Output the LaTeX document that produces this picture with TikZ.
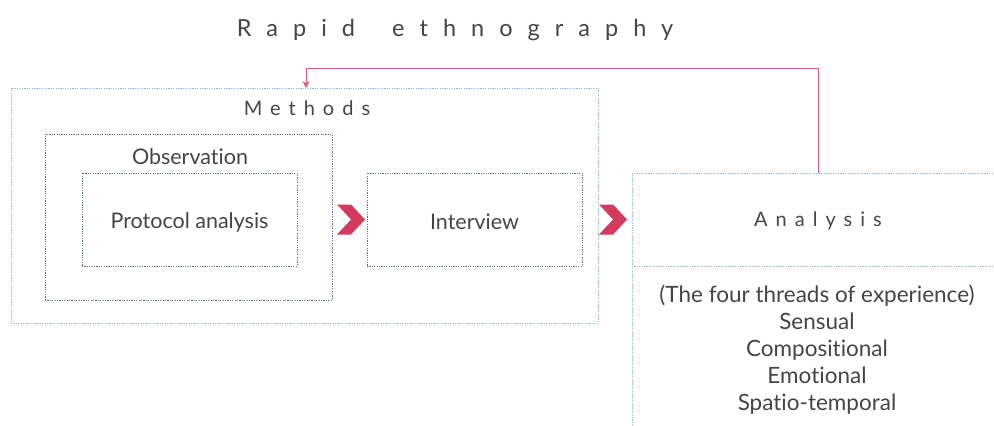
\documentclass[tikz,border=0pt]{standalone}
\usepackage{fontspec}
\setmainfont[Ligatures={NoCommon}]{Lato}
\newfontfamily\trackedwide[LetterSpace=64,Ligatures={NoCommon}]{Lato}
\newfontfamily\trackedmid[LetterSpace=40,Ligatures={NoCommon}]{Lato}
\usetikzlibrary{arrows.meta}

\definecolor{boxblue}{HTML}{8DB6E2}
\definecolor{boxslate}{HTML}{5C7089}
\definecolor{chevred}{HTML}{D23A5E}
\definecolor{linkpink}{HTML}{DC5A7A}
\definecolor{txtgrey}{HTML}{454545}

\tikzset{
  lightbox/.style={draw=boxblue, line width=0.9pt, dash pattern=on 1.2pt off 1.2pt},
  darkbox/.style={draw=boxslate, line width=0.9pt, dash pattern=on 1.2pt off 1.2pt},
  frame/.style={inner sep=0pt, outer sep=0pt, minimum width=#1},
  label/.style={text=txtgrey, font=\fontsize{21.5}{25}\selectfont, inner sep=0pt},
  spacedlabel/.style={text=txtgrey, font=\trackedmid\fontsize{20}{24}\selectfont, inner sep=0pt},
  chevron/.pic={\fill[chevred] (-28,-15) -- (-14,-15) -- (0,0) -- (-14,15) -- (-28,15) -- (-14,0) -- cycle;}
}

\begin{document}
\begin{tikzpicture}[x=1pt,y=-1pt]
\useasboundingbox (0,0) rectangle (994,426);

% title
\node[text=txtgrey, font=\trackedwide\fontsize{23.5}{28}\selectfont, inner sep=0pt] (title) at (455,30) {Rapid\hspace{16pt} ethnography};

% methods group
\node[lightbox, frame=587, minimum height=235] (methods) at (304.5,205.5) {};
\node[spacedlabel] (methodslabel) at (307,108) {Methods};

\node[darkbox, frame=287, minimum height=166] (observation) at (188.5,217) {};
\node[label] (obslabel) at (190,157) {Observation};

\node[darkbox, frame=215, minimum height=93] (protocol) at (189.5,219.5) {};
\node[label] (protocoltext) at (189.5,222) {Protocol analysis};
\node[darkbox, frame=215, minimum height=93] (interview) at (474.5,219.5) {};
\node[label] (interviewtext) at (474.5,222) {Interview};

% analysis panel (open to the right)
\node[frame=362, minimum height=93] (analysisbox) at (813,219.5) {};
\node[spacedlabel] (analysislabel) at (818,221) {Analysis};
\coordinate (analysisfoot) at (632,430);
\coordinate (analysisne) at (1000,173);
\coordinate (analysisse) at (1000,266);
\draw[lightbox] (analysisne) -- (analysisbox.north west) -- (analysisfoot);
\draw[lightbox] (analysisbox.south west) -- (analysisse);

\node[text=txtgrey, font=\fontsize{22.5}{27}\selectfont, align=center, inner sep=0pt, anchor=north] (threads) at (817,285)
  {(The four threads of experience)\\Sensual\\Compositional\\Emotional\\Spatio-temporal};

% chevrons
\pic at ([xshift=-2pt]interview.west) {chevron};
\pic at ([xshift=-5pt]analysisbox.west) {chevron};

% feedback link
\draw[linkpink, line width=1pt, -{Stealth[length=7pt,width=7pt]}]
  ([xshift=5pt]analysisbox.north) -- ++(0,-105) -| ([xshift=1.5pt]methods.north);
\end{tikzpicture}
\end{document}
